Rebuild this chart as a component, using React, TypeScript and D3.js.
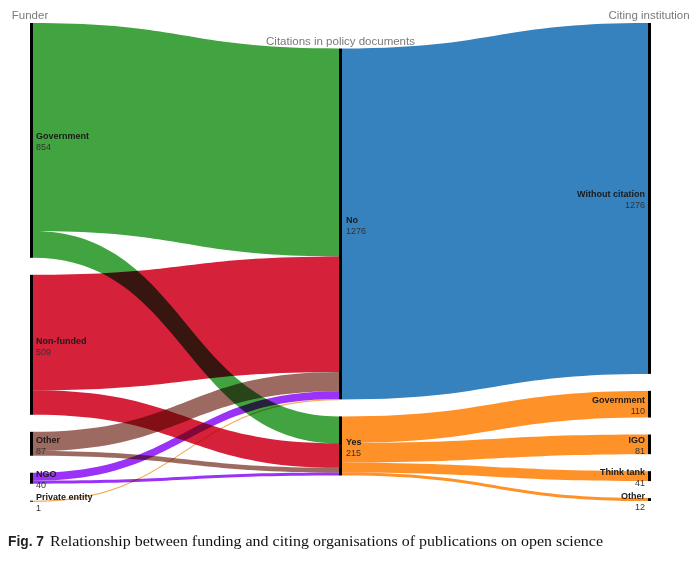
import React from "react";
import * as d3 from "d3";

const funders = ["Government", "Non-funded", "Other", "NGO", "Private entity"];
const funderValues = [854, 509, 87, 40, 1];
const funderColors = ["#42a440", "#d5213a", "#9c6a61", "#9a32f8", "#f3ad5c"];

const citations = ["No", "Yes"];
const citationValues = [1276, 215];
const citationColors = ["#3582bf", "#fe9229"];

const funderToNo = [756, 420, 70, 29, 1];
const funderToYes = [98, 89, 17, 11, 0];

const institutions = ["Without citation", "Government", "IGO", "Think tank", "Other"];
const institutionValues = [1276, 110, 81, 41, 12];

const headers = ["Funder", "Citations in policy documents", "Citing institution"];
const captionBold = "Fig. 7";
const captionText = "Relationship between funding and citing organisations of publications on open science";

const W = 698;
const H = 561;
const TOP = 23;
const BOTTOM = 501;
const GAP = 17;
const BAR = 3;

function ribbon(x0: number, y0a: number, y0b: number, x1: number, y1a: number, y1b: number) {
  const xm = (x0 + x1) / 2;
  return `M${x0},${y0a}C${xm},${y0a} ${xm},${y1a} ${x1},${y1a}L${x1},${y1b}C${xm},${y1b} ${xm},${y0b} ${x0},${y0b}Z`;
}

export default function App() {
  const total = d3.sum(funderValues);
  const x = d3.scaleLinear().domain([0, 2]).range([30, 648]);
  const k = d3.scaleLinear().domain([0, total]).range([0, BOTTOM - TOP - GAP * 4]);

  // left column
  const leftNodes: { y0: number; y1: number }[] = [];
  let y = TOP;
  funderValues.forEach((v) => {
    leftNodes.push({ y0: y, y1: y + k(v) });
    y += k(v) + GAP;
  });

  // middle column (centered)
  const midH = d3.sum(citationValues.map((v) => k(v))) + GAP;
  let ym = TOP + (BOTTOM - TOP - midH) / 2;
  const midNodes: { y0: number; y1: number }[] = [];
  citationValues.forEach((v) => {
    midNodes.push({ y0: ym, y1: ym + k(v) });
    ym += k(v) + GAP;
  });

  // right column: "Yes" outflows scaled to fit the Yes node
  const yesOut = d3.sum(institutionValues.slice(1));
  const kYes = d3.scaleLinear().domain([0, yesOut]).range([0, k(citationValues[1])]);
  const rightNodes: { y0: number; y1: number }[] = [];
  let yr = TOP;
  institutionValues.forEach((v, i) => {
    const h = i === 0 ? k(v) : kYes(v);
    rightNodes.push({ y0: yr, y1: yr + h });
    yr += h + GAP;
  });

  const links: { d: string; color: string }[] = [];
  const midOffsets = [midNodes[0].y0, midNodes[1].y0];
  const x0 = x(0) + BAR;
  const x1 = x(1);
  funders.forEach((f, i) => {
    let sy = leftNodes[i].y0;
    [funderToNo[i], funderToYes[i]].forEach((v, j) => {
      if (v <= 0) return;
      const w = Math.max(k(v), 1.2);
      const ty = midOffsets[j];
      links.push({ d: ribbon(x0, sy, sy + w, x1, ty, ty + w), color: funderColors[i] });
      sy += k(v);
      midOffsets[j] += k(v);
    });
  });
  const x2 = x(1) + BAR;
  const x3 = x(2);
  links.push({
    d: ribbon(x2, midNodes[0].y0, midNodes[0].y1, x3, rightNodes[0].y0, rightNodes[0].y1),
    color: citationColors[0],
  });
  let sy = midNodes[1].y0;
  institutionValues.slice(1).forEach((v, i) => {
    const w = kYes(v);
    const r = rightNodes[i + 1];
    links.push({ d: ribbon(x2, sy, sy + w, x3, r.y0, r.y0 + w), color: citationColors[1] });
    sy += w;
  });

  const font = "'Liberation Sans', Arial, sans-serif";

  const label = (name: string, value: number, xx: number, c: number, anchor: string, key: string) => (
    <g key={key} fontFamily={font} fontSize={9} textAnchor={anchor}>
      <text x={xx} y={c - 1} fontWeight="bold" fill="#1a1a1a">{name}</text>
      <text x={xx} y={c + 10} fill="#333">{value}</text>
    </g>
  );

  return (
    <div style={{ position: "absolute", left: 0, top: 0, width: W, height: H, background: "#fff" }}>
      <svg width={W} height={H} style={{ display: "block" }}>
        <g>
          {links.map((l, i) => (
            <path key={i} d={l.d} fill={l.color} style={{ mixBlendMode: "multiply" }} />
          ))}
        </g>
        <g fill="#000">
          {leftNodes.map((n, i) => (
            <rect key={"l" + i} x={x(0)} y={n.y0} width={BAR} height={Math.max(n.y1 - n.y0, 1)} />
          ))}
          {midNodes.map((n, i) => (
            <rect key={"m" + i} x={x(1)} y={n.y0} width={BAR} height={n.y1 - n.y0} />
          ))}
          {rightNodes.map((n, i) => (
            <rect key={"r" + i} x={x(2)} y={n.y0} width={BAR} height={Math.max(n.y1 - n.y0, 1)} />
          ))}
        </g>
        <g fontFamily={font} fontSize={11.5} fill="#7a7a7a" textAnchor="middle">
          <text x={x(0)} y={TOP - 4}>{headers[0]}</text>
          <text x={x(1) + 1.5} y={midNodes[0].y0 - 4}>{headers[1]}</text>
          <text x={x(2) + 1} y={TOP - 4}>{headers[2]}</text>
        </g>
        {funders.map((f, i) =>
          label(f, funderValues[i], x(0) + BAR + 3, (leftNodes[i].y0 + leftNodes[i].y1) / 2, "start", "fl" + i)
        )}
        {citations.map((c, i) =>
          label(c, citationValues[i], x(1) + BAR + 4, (midNodes[i].y0 + midNodes[i].y1) / 2, "start", "cl" + i)
        )}
        {institutions.map((c, i) =>
          label(c, institutionValues[i], x(2) - 3, (rightNodes[i].y0 + rightNodes[i].y1) / 2, "end", "il" + i)
        )}
        <text x={8} y={546} fontFamily={font} fontWeight="bold" fontSize={14} fill="#222" textLength={36} lengthAdjust="spacingAndGlyphs">{captionBold}</text>
        <text x={50} y={546} fontFamily="'Liberation Serif', 'Times New Roman', serif" fontSize={15.5} fill="#111" textLength={553} lengthAdjust="spacingAndGlyphs">{captionText}</text>
      </svg>
    </div>
  );
}
